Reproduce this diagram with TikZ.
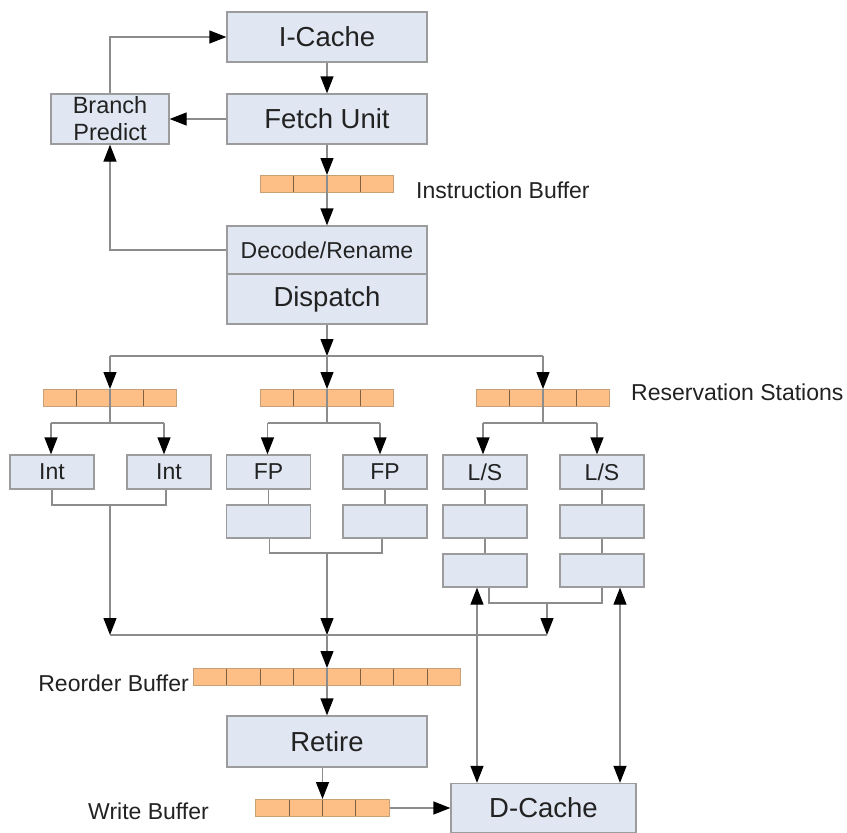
\documentclass[tikz,border=0pt]{standalone}
\usepackage{fontspec}
\setmainfont{Liberation Sans}
\usetikzlibrary{arrows.meta,calc}

\definecolor{boxfill}{HTML}{E0E6F2}
\definecolor{boxedge}{HTML}{9C9C9C}
\definecolor{buffill}{HTML}{FDBF86}
\definecolor{bufedge}{HTML}{C8A078}
\definecolor{bufdiv}{HTML}{7F6040}
\definecolor{wire}{HTML}{8C8C8C}
\definecolor{ink}{HTML}{222222}

\tikzset{
  stagebox/.style={draw=boxedge, fill=boxfill, line width=1.3pt, inner sep=0pt, text=ink},
  bigbox/.style={stagebox, minimum width=200pt, minimum height=50pt,
    font=\fontsize{27.5}{31}\selectfont},
  fubox/.style={stagebox, minimum width=84pt, minimum height=34pt,
    font=\fontsize{23}{26}\selectfont},
  bufbox/.style={draw=bufedge, fill=buffill, line width=1pt, inner sep=0pt,
    minimum height=17pt, minimum width=#1*33.4pt,
    path picture={
      \pgfmathtruncatemacro\lastdiv{#1-1}
      \foreach \k in {1,...,\lastdiv}{
        \draw[bufdiv, line width=1pt]
          ($(path picture bounding box.north west)!\k/#1!(path picture bounding box.north east)$)
          -- ($(path picture bounding box.south west)!\k/#1!(path picture bounding box.south east)$);
      }
    }},
  captiontext/.style={text=ink, inner sep=0pt, font=\fontsize{23}{26}\selectfont},
  wireline/.style={draw=wire, line width=1.3pt},
  tip/.style={},
  arr/.style={wireline, -{Triangle[length=17pt, width=13pt, color=black]}},
  darr/.style={wireline, {Triangle[length=17pt, width=13pt, color=black]}-{Triangle[length=17pt, width=13pt, color=black]}},
}

\begin{document}
\begin{tikzpicture}[x=1pt, y=-1pt]
\useasboundingbox (0,0) rectangle (847,833);

% front end
\node[bigbox] (icache) at (327,37) {I-Cache};
\node[bigbox] (fetch) at (327,119) {Fetch Unit};
\node[stagebox, minimum width=118pt, minimum height=50pt, align=center,
      font=\fontsize{23.5}{27}\selectfont] (bp) at (110,119) {Branch\\Predict};
\node[bufbox=4] (ibuf) at (327,184) {};
\node[bigbox, minimum height=48pt, font=\fontsize{23}{26}\selectfont] (decode) at (327,250) {Decode/Rename};
\node[bigbox] (dispatch) at (327,299) {Dispatch};

% reservation stations
\coordinate (dsplit) at (327,356);
\node[bufbox=4] (rs1) at (110,398) {};
\node[bufbox=4] (rs2) at (327,398) {};
\node[bufbox=4] (rs3) at (543,398) {};

% functional units
\node[fubox] (int1) at (52,472) {Int};
\node[fubox] (int2) at (169,472) {Int};
\node[fubox] (fp1) at (268.5,472) {FP};
\node[fubox] (fp2) at (385,472) {FP};
\node[fubox] (ls1) at (485,472) {L/S};
\node[fubox] (ls2) at (602,472) {L/S};
\node[fubox, minimum height=33pt] (fp1b) at (268.5,521.5) {};
\node[fubox, minimum height=33pt] (fp2b) at (385,521.5) {};
\node[fubox, minimum height=33pt] (ls1b) at (485,521.5) {};
\node[fubox, minimum height=33pt] (ls2b) at (602,521.5) {};
\node[fubox, minimum height=33pt] (ls1c) at (485,570.5) {};
\node[fubox, minimum height=33pt] (ls2c) at (602,570.5) {};

% back end
\coordinate (merge) at (327,635);
\node[bufbox=8] (rob) at (327,677) {};
\node[bigbox, minimum height=51pt] (retire) at (327,741.5) {Retire};
\node[bufbox=4] (wbuf) at (322.5,808) {};
\node[stagebox, minimum width=185pt, minimum height=49pt,
      font=\fontsize{27.5}{31}\selectfont] (dcache) at (543.5,808) {D-Cache};

% captions
\node[captiontext, anchor=west] (iblab) at (416,190) {Instruction Buffer};
\node[captiontext, anchor=west] (rslab) at (631,392) {Reservation Stations};
\node[captiontext, anchor=east] (roblab) at (189,683) {Reorder Buffer};
\node[captiontext, anchor=east] (wblab) at (209,811) {Write Buffer};

% fetch / decode loop
\draw[arr] (icache.south) -- (fetch.north);
\draw[arr] (fetch.west) -- (bp.east);
\draw[arr] (bp.north) |- (icache.west);
\draw[arr] (decode.west) -| (bp.south);
\draw[arr] (fetch.south) -- (ibuf.north);
\draw[arr] (ibuf.north) -- (decode.north);

% dispatch to the reservation stations
\draw[arr] (dispatch.south) -- (dsplit);
\draw[wireline] (rs1.north |- dsplit) -- (rs3.north |- dsplit);
\draw[arr] (rs1.north |- dsplit) -- (rs1.north);
\draw[arr] (dsplit) -- (rs2.north);
\draw[arr] (rs3.north |- dsplit) -- (rs3.north);

% issue to the functional units
\coordinate (rs1fan) at (110,423);
\coordinate (rs2fan) at (327,423);
\coordinate (rs3fan) at (543,423);
\draw[wireline] (rs1.north) -- (rs1fan);
\draw[wireline] (rs2.north) -- (rs2fan);
\draw[wireline] (rs3.north) -- (rs3fan);
\draw[wireline] ([xshift=-1pt]int1.north |- rs1fan) -- ([xshift=-5pt]int2.north |- rs1fan);
\draw[wireline] ([xshift=-1pt]fp1.north |- rs2fan) -- ([xshift=-5pt]fp2.north |- rs2fan);
\draw[wireline] ([xshift=-2pt]ls1.north |- rs3fan) -- ([xshift=-5pt]ls2.north |- rs3fan);
\draw[arr] ([xshift=-1pt]int1.north |- rs1fan) -- ([xshift=-1pt]int1.north);
\draw[arr] ([xshift=-5pt]int2.north |- rs1fan) -- ([xshift=-5pt]int2.north);
\draw[arr] ([xshift=-1pt]fp1.north |- rs2fan) -- ([xshift=-1pt]fp1.north);
\draw[arr] ([xshift=-5pt]fp2.north |- rs2fan) -- ([xshift=-5pt]fp2.north);
\draw[arr] ([xshift=-2pt]ls1.north |- rs3fan) -- ([xshift=-2pt]ls1.north);
\draw[arr] ([xshift=-5pt]ls2.north |- rs3fan) -- ([xshift=-5pt]ls2.north);

% pipeline stages inside the units
\draw[wireline] (fp1.south) -- (fp1b.north);
\draw[wireline] (fp2.south) -- (fp2b.north);
\draw[wireline] (ls1.south) -- (ls1b.north);
\draw[wireline] (ls2.south) -- (ls2b.north);
\draw[wireline] (ls1b.south) -- (ls1c.north);
\draw[wireline] (ls2b.south) -- (ls2c.north);

% results back to the reorder buffer
\coordinate (intj) at (110,505);
\coordinate (fpj) at (327,553);
\coordinate (lsj) at (547,603);
\draw[wireline] (int1.south) |- (intj) -| ([xshift=-3pt]int2.south);
\draw[wireline] ([xshift=1pt]fp1b.south) |- (fpj) -| ([xshift=-3pt]fp2b.south);
\draw[wireline] ([xshift=4pt]ls1c.south) |- (lsj) -| (ls2c.south);
\draw[arr] (intj) -- (intj |- merge);
\draw[arr] (fpj) -- (merge);
\draw[arr] (lsj) -- (lsj |- merge);
\draw[wireline] (intj |- merge) -- (lsj |- merge);

% commit
\draw[arr] (merge) -- (rob.north);
\draw[arr] (rob.north) -- (retire.north);
\draw[arr] (wbuf.north |- retire.south) -- (wbuf.north);
\draw[arr] (wbuf.east) -- (dcache.west);

% load/store units and the data cache
\draw[darr] ([xshift=-8pt]ls1c.south) -- ([xshift=-8pt]ls1c.south |- dcache.north);
\draw[darr] ([xshift=18pt]ls2c.south) -- ([xshift=18pt]ls2c.south |- dcache.north);
\end{tikzpicture}
\end{document}
